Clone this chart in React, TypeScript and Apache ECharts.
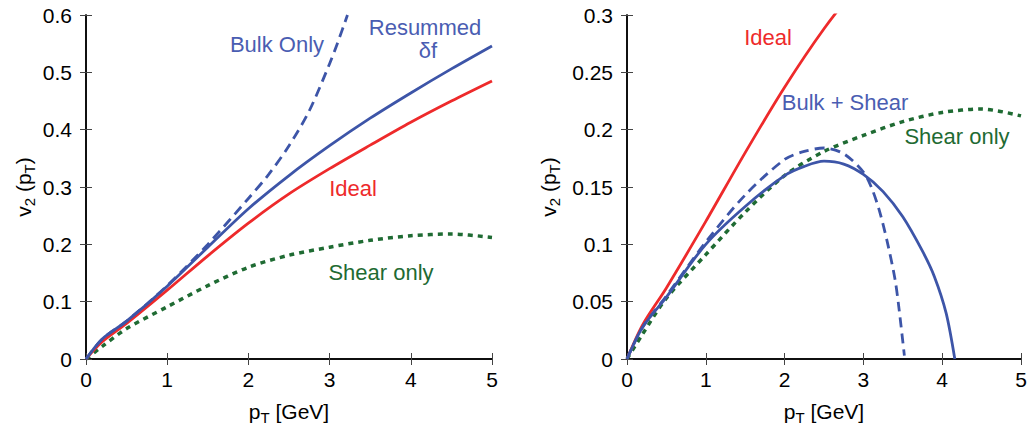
import React, { useEffect, useRef } from "react";
import * as echarts from "echarts";

// ---- Data ----
// Shared curves (same in both panels)
const idealX = [0, 0.2, 0.5, 1, 1.5, 2, 2.5, 3, 3.5, 4, 4.5, 5];
const idealY = [0, 0.03, 0.062, 0.12, 0.18, 0.237, 0.288, 0.332, 0.373, 0.413, 0.45, 0.485];

const shearX = [0, 0.2, 0.5, 1, 1.5, 2, 2.5, 3, 3.5, 4, 4.5, 5];
const shearY = [0, 0.022, 0.053, 0.091, 0.128, 0.16, 0.181, 0.195, 0.207, 0.215, 0.218, 0.212];

// Left panel
const resummedX = [0, 0.2, 0.5, 1, 1.5, 2, 2.5, 3, 3.5, 4, 4.5, 5];
const resummedY = [0, 0.035, 0.066, 0.127, 0.195, 0.262, 0.32, 0.372, 0.42, 0.464, 0.506, 0.546];

const bulkOnlyX = [0, 0.2, 0.5, 1, 1.5, 2, 2.25, 2.5, 2.75, 3, 3.1, 3.22];
const bulkOnlyY = [0, 0.035, 0.066, 0.128, 0.2, 0.28, 0.322, 0.372, 0.433, 0.515, 0.552, 0.6];

// Right panel
const bulkShearX = [0, 0.2, 0.5, 1, 1.5, 2, 2.25, 2.5, 2.75, 3, 3.25, 3.5, 3.75, 3.9, 4.05, 4.16];
const bulkShearY = [0, 0.028, 0.054, 0.1, 0.133, 0.16, 0.168, 0.1725, 0.17, 0.161, 0.146, 0.124, 0.094, 0.072, 0.04, 0];

const bulkShearDashX = [0, 0.2, 0.5, 1, 1.5, 2, 2.25, 2.5, 2.75, 3, 3.1, 3.2, 3.3, 3.4, 3.45, 3.52];
const bulkShearDashY = [0, 0.028, 0.055, 0.102, 0.143, 0.174, 0.181, 0.184, 0.179, 0.163, 0.15, 0.13, 0.103, 0.07, 0.045, 0.003];

// Axis ticks
const xMin = 0, xMax = 5, xStep = 1;
const yLeftMin = 0, yLeftMax = 0.6, yLeftStep = 0.1;
const yRightMin = 0, yRightMax = 0.3, yRightStep = 0.05;

const RED = "#ee2a2b";
const BLUE = "#3d55a8";
const BLUE_TXT = "#4a5db2";
const GREEN = "#1f6b33";
const FONT = "Liberation Sans, Arial, Helvetica, sans-serif";

const pairs = (xs: number[], ys: number[]) => xs.map((x, i) => [x, ys[i]]);

export default function App() {
  const ref = useRef<HTMLDivElement>(null);
  useEffect(() => {
    if (!ref.current) return;
    const chart = echarts.init(ref.current, undefined, { renderer: "svg" });

    const frameLine = { show: true, lineStyle: { color: "#000", width: 1.5 } };
    const tick = { show: true, inside: true, length: 6, lineStyle: { color: "#444", width: 1 } };
    const labelStyle = { fontSize: 21, color: "#000", fontFamily: FONT };
    const rich = {
      m: { fontSize: 21, fontFamily: FONT, color: "#000", lineHeight: 23 },
      s: { fontSize: 15, fontFamily: FONT, color: "#000", lineHeight: 15, padding: [12, 0, 0, 0] },
    };

    const xAxisDef = (grid: number, pos: "bottom" | "top", main: boolean) => ({
      type: "value",
      gridIndex: grid,
      position: pos,
      min: xMin,
      max: xMax,
      interval: xStep,
      axisLine: frameLine,
      axisTick: tick,
      splitLine: { show: false },
      axisLabel: main ? { ...labelStyle, margin: 10 } : { show: false },
      name: main ? "{m|p}{s|T}{m| [GeV]}" : "",
      nameLocation: "middle",
      nameGap: 41,
      nameTextStyle: { rich },
    });
    const yAxisDef = (grid: number, pos: "left" | "right", main: boolean, mn: number, mx: number, st: number, gap: number) => ({
      type: "value",
      gridIndex: grid,
      position: pos,
      min: mn,
      max: mx,
      interval: st,
      axisLine: frameLine,
      axisTick: tick,
      splitLine: { show: false },
      axisLabel: main ? { ...labelStyle, margin: 14 } : { show: false },
      name: main ? "{m|v}{s|2}{m| (p}{s|T}{m|)}" : "",
      nameLocation: "middle",
      nameRotate: 90,
      nameGap: gap,
      nameTextStyle: { rich },
    });

    const line = (xi: number, yi: number, data: number[][], color: string, type: any, width = 2.8) => ({
      type: "line",
      xAxisIndex: xi,
      yAxisIndex: yi,
      data,
      showSymbol: false,
      smooth: 0.3,
      clip: true,
      lineStyle: { color, width, type },
    });

    const annot = (text: string, x: number, y: number, color: string) => ({
      type: "text",
      x,
      y,
      style: { text, fill: color, font: `22px ${FONT}`, align: "center", verticalAlign: "middle" },
    });

    chart.setOption({
      animation: false,
      backgroundColor: "#fff",
      grid: [
        { left: 86, top: 15, width: 406, height: 346 },
        { left: 627, top: 15, width: 394, height: 346 },
      ],
      xAxis: [
        xAxisDef(0, "bottom", true),
        xAxisDef(0, "top", false),
        xAxisDef(1, "bottom", true),
        xAxisDef(1, "top", false),
      ],
      yAxis: [
        yAxisDef(0, "left", true, yLeftMin, yLeftMax, yLeftStep, 51),
        yAxisDef(0, "right", false, yLeftMin, yLeftMax, yLeftStep, 0),
        yAxisDef(1, "left", true, yRightMin, yRightMax, yRightStep, 67),
        yAxisDef(1, "right", false, yRightMin, yRightMax, yRightStep, 0),
      ],
      series: [
        line(0, 0, pairs(shearX, shearY), GREEN, [5, 5], 3.5),
        line(0, 0, pairs(idealX, idealY), RED, "solid"),
        line(0, 0, pairs(bulkOnlyX, bulkOnlyY), BLUE, [10, 6]),
        line(0, 0, pairs(resummedX, resummedY), BLUE, "solid"),
        line(2, 2, pairs(shearX, shearY), GREEN, [5, 5], 3.5),
        line(2, 2, pairs(idealX, idealY), RED, "solid"),
        line(2, 2, pairs(bulkShearDashX, bulkShearDashY), BLUE, [10, 6]),
        line(2, 2, pairs(bulkShearX, bulkShearY), BLUE, "solid"),
      ],
      graphic: [
        annot("Bulk Only", 277, 44, BLUE_TXT),
        annot("Resummed", 425, 27, BLUE_TXT),
        annot("\u03b4f", 428, 50, BLUE_TXT),
        annot("Ideal", 353, 188, RED),
        annot("Shear only", 381, 272, GREEN),
        annot("Ideal", 768, 37, RED),
        annot("Bulk + Shear", 845, 102, BLUE_TXT),
        annot("Shear only", 957, 136, GREEN),
      ],
    });
    return () => chart.dispose();
  }, []);
  return (
    <div
      ref={ref}
      style={{ position: "fixed", left: 0, top: 0, width: 1031, height: 430, background: "#fff" }}
    />
  );
}
